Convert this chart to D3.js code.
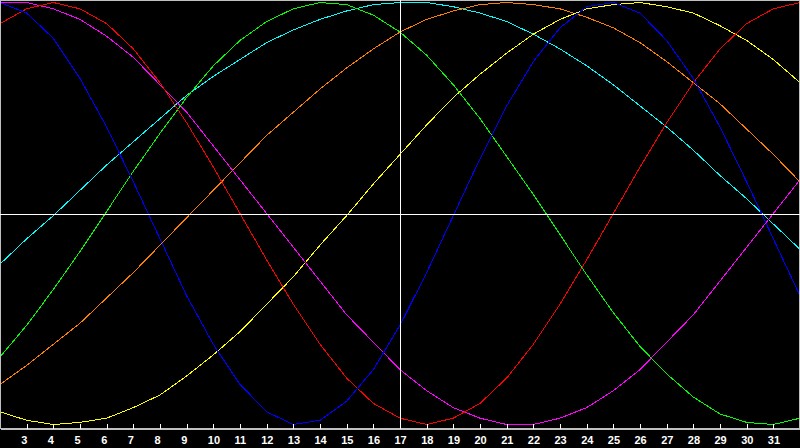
<!DOCTYPE html>
<html>
<head>
<meta charset="utf-8">
<script src="https://cdn.jsdelivr.net/npm/d3@7"></script>
<style>
  body { margin: 0; background: #000; }
  svg { display: block; }
</style>
</head>
<body>
<svg id="my_svg"></svg>
<script>
const width = 800;
const height = 448;

// day of month for each sample point
const days = [2, 3, 4, 5, 6, 7, 8, 9, 10, 11, 12, 13, 14, 15, 16, 17,
  18, 19, 20, 21, 22, 23, 24, 25, 26, 27, 28, 29, 30, 31, 32];
const tickDays = [3, 4, 5, 6, 7, 8, 9, 10, 11, 12, 13, 14, 15, 16, 17,
  18, 19, 20, 21, 22, 23, 24, 25, 26, 27, 28, 29, 30, 31];
const today = 17;

// values in percent
const physical = [100, 95, 83, 64, 41, 15, -12, -39, -62, -81, -94, -100, -98, -89, -74, -53,
  -28, -1, 26, 51, 72, 88, 98, 100, 95, 82, 64, 41, 15, -12, -39];
const emotional = [90, 97, 100, 97, 90, 78, 62, 43, 22, 0, -22, -43, -62, -78, -90, -97,
  -100, -97, -90, -78, -62, -43, -22, 0, 22, 43, 62, 78, 90, 97, 100];
const intellectual = [-68, -53, -36, -18, 1, 20, 38, 55, 70, 82, 91, 97, 100, 99, 94, 86,
  75, 61, 45, 27, 9, -10, -29, -47, -63, -76, -87, -95, -99, -100, -97];
const intuitive = [100, 100, 97, 92, 84, 74, 61, 48, 32, 16, 0, -16, -32, -48, -61, -74,
  -84, -92, -97, -100, -100, -97, -92, -84, -74, -61, -48, -32, -16, 0, 16];
const aesthetic = [-94, -98, -100, -99, -97, -92, -86, -77, -67, -56, -43, -30, -15, -1, 14, 28,
  42, 55, 66, 76, 85, 92, 97, 99, 100, 98, 95, 89, 82, 73, 62];
const awareness = [-81, -72, -62, -52, -40, -28, -15, -2, 11, 24, 37, 48, 59, 69, 78, 86,
  92, 96, 99, 100, 99, 97, 93, 88, 81, 72, 62, 52, 40, 28, 15];
const spiritual = [-24, -12, -1, 11, 23, 34, 45, 56, 65, 73, 81, 87, 92, 96, 99, 100,
  100, 98, 95, 91, 85, 78, 70, 61, 51, 41, 30, 18, 7, -5, -17];

const series = [
  { name: 'spiritual', color: '#00ffff', values: spiritual },
  { name: 'awareness', color: '#ff8000', values: awareness },
  { name: 'aesthetic', color: '#ffff00', values: aesthetic },
  { name: 'intuitive', color: '#ff00ff', values: intuitive },
  { name: 'intellectual', color: '#00ff00', values: intellectual },
  { name: 'emotional', color: '#ff0000', values: emotional },
  { name: 'physical', color: '#0000ff', values: physical }
];

const plotBottom = 428;

const svg = d3.select('#my_svg')
  .attr('width', width)
  .attr('height', height);

svg.append('rect')
  .attr('width', width)
  .attr('height', height)
  .attr('fill', '#000');

const x = d3.scaleLinear().domain([2, 32]).range([0, width]);
const y = d3.scaleLinear().domain([-100, 100]).range([424.5, 2.5]);

svg.append('clipPath')
  .attr('id', 'plot_clip')
  .append('rect')
  .attr('width', width)
  .attr('height', plotBottom);

const line = d3.line()
  .x((d, i) => x(days[i]))
  .y(d => y(d));

svg.append('g')
  .attr('clip-path', 'url(#plot_clip)')
  .selectAll('path')
  .data(series)
  .enter().append('path')
  .attr('d', d => line(d.values))
  .attr('fill', 'none')
  .attr('stroke', d => d.color)
  .attr('stroke-width', 1)
  .attr('shape-rendering', 'crispEdges');

// frame
svg.append('rect')
  .attr('x', 0.5)
  .attr('y', 0.5)
  .attr('width', width - 1)
  .attr('height', plotBottom)
  .attr('fill', 'none')
  .attr('stroke', '#c0c0c0')
  .attr('shape-rendering', 'crispEdges');

// crosshair: today and the zero line
svg.append('line')
  .attr('x1', Math.round(x(today)) + 0.5)
  .attr('x2', Math.round(x(today)) + 0.5)
  .attr('y1', 0)
  .attr('y2', plotBottom)
  .attr('stroke', '#fff')
  .attr('shape-rendering', 'crispEdges');

svg.append('line')
  .attr('x1', 0)
  .attr('x2', width)
  .attr('y1', Math.round(y(0)) + 0.5)
  .attr('y2', Math.round(y(0)) + 0.5)
  .attr('stroke', '#fff')
  .attr('shape-rendering', 'crispEdges');

// day axis, ticks pointing up into the plot
const axis = svg.append('g')
  .attr('transform', `translate(0,${plotBottom + 0.5})`)
  .call(d3.axisBottom(x)
    .tickValues(tickDays)
    .tickFormat(d3.format('d'))
    .tickSizeInner(-5)
    .tickSizeOuter(0)
    .tickPadding(7.5));

axis.select('.domain')
  .attr('stroke', '#c0c0c0')
  .attr('shape-rendering', 'crispEdges');
axis.selectAll('.tick line')
  .attr('stroke', '#fff')
  .attr('shape-rendering', 'crispEdges');
axis.selectAll('.tick text')
  .attr('fill', '#fff')
  .attr('text-anchor', 'start')
  .attr('dx', -6)
  .style('font-family', '"Liberation Sans", Arial, sans-serif')
  .style('font-size', '11px')
  .style('font-weight', 'bold');
</script>
</body>
</html>
